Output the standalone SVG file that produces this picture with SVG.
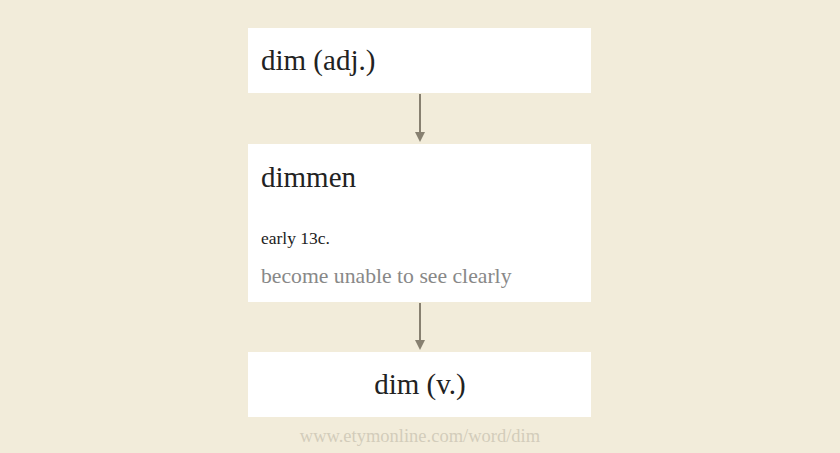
<svg xmlns="http://www.w3.org/2000/svg" width="840" height="453" viewBox="0 0 840 453">
<style>
.box{fill:#ffffff}
.t{font-family:"Liberation Serif","DejaVu Serif",serif;fill:#222}
.h{font-size:29px}
.d{font-size:17.5px}
.g{font-size:21.7px;fill:#888}
.f{font-size:18.5px;fill:#d3ccbb}
.c{stroke:#878070;stroke-width:2;fill:none}
</style>
<rect width="840" height="453" fill="#f2ecda"/>
<g id="connectors">
<line class="c" x1="420" y1="94" x2="420" y2="133"/>
<path d="M415,132 L425,132 L420,142 Z" fill="#878070"/>
<line class="c" x1="420" y1="303" x2="420" y2="341"/>
<path d="M415,340 L425,340 L420,350 Z" fill="#878070"/>
</g>
<g id="node-dim-adj">
<rect class="box" x="248" y="28" width="343" height="65"/>
<text class="t h" x="261" y="70">dim (adj.)</text>
</g>
<g id="node-dimmen">
<rect class="box" x="248" y="144" width="343" height="158"/>
<text class="t h" x="261" y="187">dimmen</text>
<text class="t d" x="261" y="244">early 13c.</text>
<text class="t g" x="261" y="283">become unable to see clearly</text>
</g>
<g id="node-dim-v">
<rect class="box" x="248" y="352" width="343" height="65"/>
<text class="t h" x="420" y="394" text-anchor="middle">dim (v.)</text>
</g>
<text class="t f" x="420" y="442" text-anchor="middle">www.etymonline.com/word/dim</text>
</svg>
